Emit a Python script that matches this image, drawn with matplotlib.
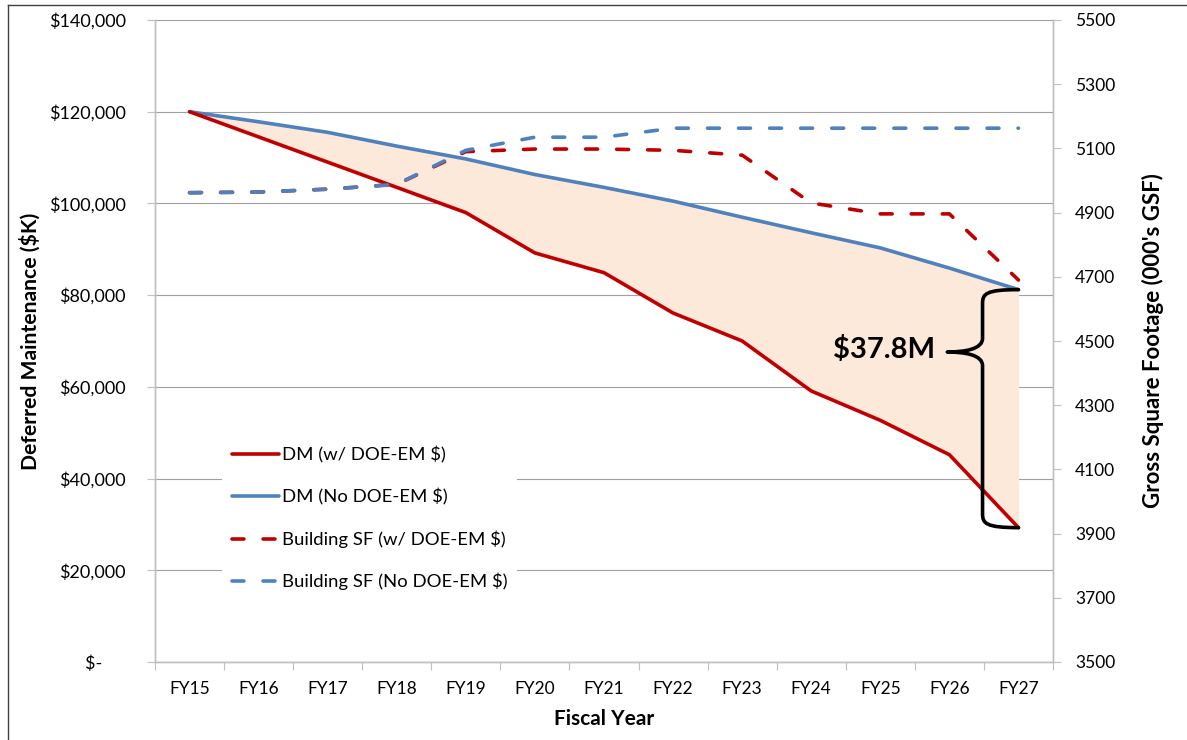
import matplotlib
matplotlib.use("Agg")
import matplotlib.pyplot as plt
from matplotlib.path import Path
from matplotlib.patches import PathPatch
from matplotlib.lines import Line2D
from matplotlib.ticker import FuncFormatter, MultipleLocator

plt.rcParams['font.family'] = ['Lato', 'DejaVu Sans']

years = ["FY15", "FY16", "FY17", "FY18", "FY19", "FY20", "FY21",
         "FY22", "FY23", "FY24", "FY25", "FY26", "FY27"]

# deferred maintenance, $K
dm_with_em = [120000, 114500, 109000, 103500, 98000, 89200, 84900,
              76100, 70000, 59100, 52700, 45200, 29300]
dm_no_em = [120000, 117800, 115500, 112500, 109700, 106300, 103500,
            100500, 97000, 93600, 90300, 85900, 81200]

# gross square footage, 000's GSF
sf_with_em = [4962, 4964, 4973, 4988, 5090, 5098, 5098,
              5094, 5079, 4930, 4896, 4896, 4690]
sf_no_em = [4962, 4964, 4973, 4988, 5094, 5135, 5135,
            5163, 5163, 5163, 5163, 5163, 5163]

gap_label = "$37.8M"

RED = "#C00000"
BLUE = "#4F81BD"
FILL = "#FDE9D9"
GRID = "#A0A0A0"
AXIS = "#BFBFBF"

fig = plt.figure(figsize=(11.87, 7.40), dpi=100)
ax = fig.add_axes([155 / 1187, 1 - 662 / 740, 898 / 1187, 642 / 740])
ax2 = ax.twinx()

x = list(range(len(years)))

ax.fill_between(x, dm_with_em, dm_no_em, color=FILL, lw=0, zorder=1)
ax.plot(x, dm_no_em, color=BLUE, lw=2.6, solid_capstyle='round', zorder=3,
        label="DM (No DOE-EM $)")
ax.plot(x, dm_with_em, color=RED, lw=2.6, solid_capstyle='round', zorder=3,
        label="DM (w/ DOE-EM $)")

dash = (0, (3.3, 5.3))
ax2.plot(x, sf_with_em, color=RED, lw=2.6, ls=dash, dash_capstyle='round',
         label="Building SF (w/ DOE-EM $)")
ax2.plot(x, sf_no_em, color=BLUE, lw=2.6, ls=dash, dash_capstyle='round',
         label="Building SF (No DOE-EM $)")

# left axis, accounting style: zero shows as "$-"
ax.set_xlim(-0.5, len(years) - 0.5)
ax.set_ylim(0, 140000)
ax.yaxis.set_major_locator(MultipleLocator(20000))
ax.yaxis.set_major_formatter(FuncFormatter(
    lambda v, p: "$-     " if v == 0 else "${:,.0f}".format(v)))
ax.grid(axis='y', color=GRID, lw=0.8, zorder=0)
ax.set_axisbelow(True)
ax.set_xticks(x)
ax.set_xticklabels(years)
ax.set_xticks([i + 0.5 for i in range(-1, len(years))], minor=True)
ax.tick_params(axis='x', which='major', length=0, pad=14, labelsize=12.5)
ax.tick_params(axis='x', which='minor', length=6, color=AXIS, width=0.8)
ax.tick_params(axis='y', length=6, color=AXIS, width=0.8, labelsize=13, pad=15)

# right axis
ax2.set_ylim(3500, 5500)
ax2.set_yticks(list(range(3500, 5501, 200)))
ax2.tick_params(axis='y', length=6, color=AXIS, width=0.8, labelsize=12.5, pad=10)

for a in (ax, ax2):
    a.spines['top'].set_visible(False)
    for s in ('left', 'right', 'bottom'):
        a.spines[s].set_color(AXIS)
        a.spines[s].set_linewidth(1.0)

ax.set_xlabel("Fiscal Year", fontsize=15, fontweight='bold', labelpad=8)
ax.set_ylabel("Deferred Maintenance ($K)", fontsize=15.2, fontweight='bold', labelpad=6)
ax2.set_ylabel("Gross Square Footage (000's GSF)", fontsize=16, fontweight='bold',
               labelpad=19)

# curly brace over the FY27 gap
xe = len(years) - 1
xs = xe - 0.52
xt = xe - 1.03
top = dm_no_em[-1]
bot = dm_with_em[-1]
tip = 67600
r = 3000
verts = [
    (xe, top),
    (xs + 0.05, top), (xs, top - 0.3 * r), (xs, top - r),
    (xs, tip + r),
    (xs, tip + 0.2 * r), (xt + 0.25, tip), (xt, tip),
    (xt + 0.25, tip), (xs, tip - 0.2 * r), (xs, tip - r),
    (xs, bot + r),
    (xs, bot + 0.3 * r), (xs + 0.05, bot), (xe, bot),
]
codes = [Path.MOVETO,
         Path.CURVE4, Path.CURVE4, Path.CURVE4,
         Path.LINETO,
         Path.CURVE4, Path.CURVE4, Path.CURVE4,
         Path.CURVE4, Path.CURVE4, Path.CURVE4,
         Path.LINETO,
         Path.CURVE4, Path.CURVE4, Path.CURVE4]
ax.add_patch(PathPatch(Path(verts, codes), fill=False, ec='black', lw=2.6,
                       capstyle='round', joinstyle='round', zorder=4))
ax.text(xe - 1.2, tip + 500, gap_label, ha='right', va='center',
        fontsize=21, fontweight='bold', zorder=5)

# legend sits on the upper axes so it hides the grid behind it
h1, l1 = ax.get_legend_handles_labels()
h2, l2 = ax2.get_legend_handles_labels()
order = [1, 0]
handles = [h1[i] for i in order] + h2
labels = [l1[i] for i in order] + l2
leg = ax2.legend(handles, labels, loc='upper left', bbox_to_anchor=(0.075, 0.35),
                 fontsize=13.3, handlelength=2.55, handletextpad=0.2,
                 labelspacing=1.35, frameon=True, borderpad=0.5, borderaxespad=0)
leg.get_frame().set_facecolor('white')
leg.get_frame().set_edgecolor('none')
leg.get_frame().set_alpha(1)

# chart area border (left and top edges)
fig.add_artist(Line2D([8 / 1187, 8 / 1187], [0, 1 - 5 / 740], color='#404040', lw=1))
fig.add_artist(Line2D([8 / 1187, 1], [1 - 5 / 740, 1 - 5 / 740], color='#404040', lw=1))

fig.savefig("out.png", dpi=100)
